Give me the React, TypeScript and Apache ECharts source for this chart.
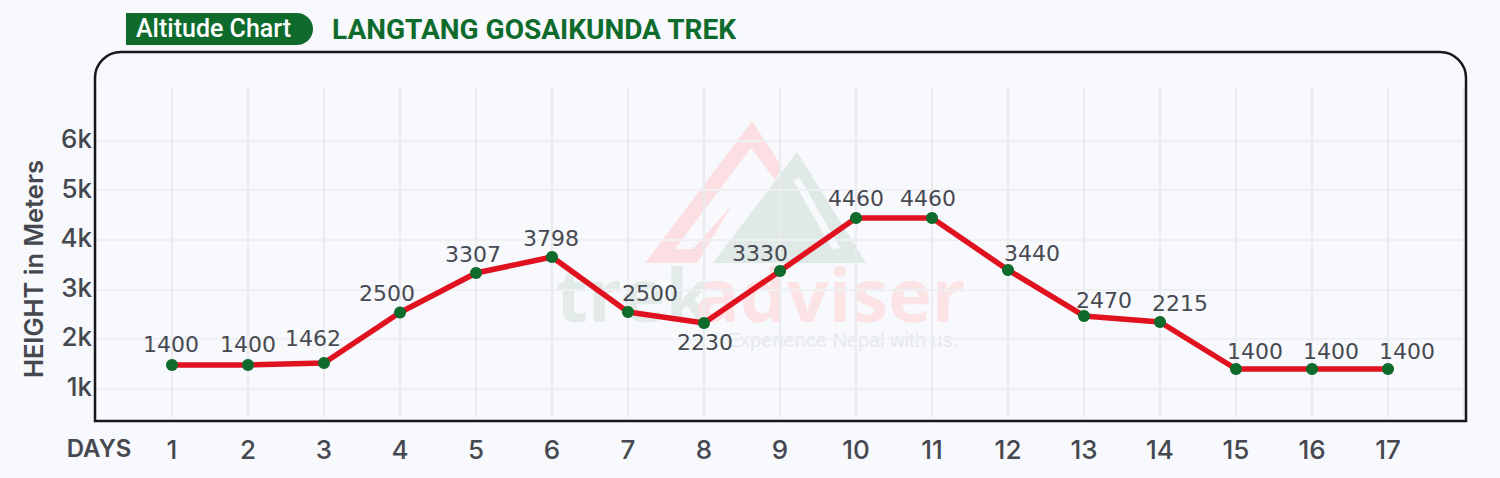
import React, { useEffect, useRef } from "react";
import * as echarts from "echarts";

// Categories: first is the axis caption, last is an empty slot that closes the plot
const dayCategories = ["DAYS", "1", "2", "3", "4", "5", "6", "7", "8", "9", "10", "11", "12", "13", "14", "15", "16", "17", ""];
const plottedHeights = [1474, 1474, 1514, 2532, 3329, 3651, 2542, 2320, 3369, 4437, 4437, 3389, 2462, 2341, 1393, 1393, 1393];
// Printed point labels (the source labels do not always match the plotted height)
const pointLabels = ["1400", "1400", "1462", "2500", "3307", "3798", "2500", "2230", "3330", "4460", "4460", "3440", "2470", "2215", "1400", "1400", "1400"];
const yTicks = [1000, 2000, 3000, 4000, 5000, 6000];

const labelShift: number[][] = [
  [-1, 0], [0, 0], [-11, -4], [-13, 1], [-3, 2], [-1, 2], [22, 2], [1, 39], [-20, 3], [0, 0], [-4, 0], [24, 4], [20, 5], [20, 2], [19, 3], [19, 3], [19, 3],
];

const FONT = "Inter, Liberation Sans, Arial, sans-serif";
const GREEN = "#0e6b2c";
const INK = "#46484f";

const redMark = "M752 121 L782 167 L775 180 L751 148 L675 249 L693 249 L732 205 L697 263 L645 263 Z";
const greenMark = "M797 152 L866 263 L713 263 Z M793 180 L832 249 L840 248 L800 178 Z";
const pillShape = "M126 13 L297 13 A16 16 0 0 1 297 45 L126 45 Z";
echarts.graphic.registerShape("wmRed", echarts.graphic.extendPath(redMark, {}) as any);
echarts.graphic.registerShape("wmGreen", echarts.graphic.extendPath(greenMark, {}) as any);
echarts.graphic.registerShape("pill", echarts.graphic.extendPath(pillShape, {}) as any);

export default function App() {
  const ref = useRef<HTMLDivElement>(null);
  useEffect(() => {
    const chart = echarts.init(ref.current!, undefined, { renderer: "svg" });
    chart.setOption({
      animation: false,
      backgroundColor: "#f7f9fc",
      grid: { left: 96, right: 36, top: 88, bottom: 61 },
      xAxis: {
        type: "category",
        data: dayCategories,
        boundaryGap: false,
        axisLine: { show: false },
        axisTick: { show: false },
        axisLabel: {
          interval: 0,
          margin: 19,
          color: INK,
          fontFamily: FONT,
          fontSize: 26,
          fontWeight: 500,
          formatter: (v: string) => (v === "DAYS" ? "{c|DAYS}" : v),
          rich: { c: { fontSize: 24, fontWeight: 600, color: INK, fontFamily: FONT, padding: [0, 0, 0, 6] } },
        },
        splitLine: { show: true, lineStyle: { color: "#e9ebef", width: 2 } },
      },
      yAxis: {
        type: "value",
        min: 425,
        max: 7058,
        axisLine: { show: false },
        axisTick: { show: false, customValues: yTicks },
        axisLabel: {
          customValues: yTicks,
          margin: 4,
          color: INK,
          fontFamily: FONT,
          fontSize: 26,
          fontWeight: 500,
          verticalAlign: "bottom",
          lineHeight: 4,
          formatter: (v: number) => `${v / 1000}k`,
        },
        splitLine: { show: true, lineStyle: { color: "#eff0f4", width: 2 } },
      },
      graphic: [
        { type: "wmRed", z: -1, silent: true, style: { fill: "#fbdfe2" } },
        { type: "wmGreen", z: -1, silent: true, style: { fill: "#dfe9e6" } },
        { type: "text", z: -1, silent: true, x: 556, y: 256, style: { text: "trek", font: "bold 74px 'Open Sans', sans-serif", fill: "#e2ebe8" } },
        { type: "text", z: -1, silent: true, x: 695, y: 256, style: { text: "adviser", font: "bold 74px 'Open Sans', sans-serif", fill: "#fbe3e6" } },
        { type: "text", z: -1, silent: true, x: 958, y: 330, style: { text: "Experience Nepal with us.", font: `20px Liberation Sans, sans-serif`, fill: "#e6e8ec", align: "right" } },
        { type: "rect", z: 5, silent: true, shape: { x: 95, y: 52, width: 1371, height: 369, r: [26, 26, 0, 0] }, style: { fill: "none", stroke: "#17181c", lineWidth: 2.5 } },
        { type: "pill", z: 5, silent: true, style: { fill: GREEN } },
        { type: "text", z: 6, silent: true, x: 136, y: 16, style: { text: "Altitude Chart", font: `500 25px Roboto, sans-serif`, fill: "#ffffff" } },
        { type: "text", z: 6, silent: true, x: 332, y: 15, style: { text: "LANGTANG GOSAIKUNDA TREK", font: `bold 28px Roboto, sans-serif`, fill: GREEN } },
        { type: "text", z: 6, silent: true, x: 20, y: 269, rotation: Math.PI / 2, style: { text: "HEIGHT in Meters", font: `600 25.5px ${FONT}`, fill: INK, align: "center" } },
      ],
      series: [
        {
          type: "line",
          data: plottedHeights.map((h, i) => ({
            value: [String(i + 1), h],
            label: { formatter: pointLabels[i], offset: labelShift[i] },
          })),
          lineStyle: { color: "#e0121f", width: 5.5 },
          itemStyle: { color: GREEN },
          symbol: "circle",
          symbolSize: 12,
          showAllSymbol: true,
          label: {
            show: true,
            position: "top",
            distance: 3,
            color: "#484a52",
            fontFamily: "DejaVu Sans, sans-serif",
            fontSize: 22,
          },
        },
      ],
    });
    return () => chart.dispose();
  }, []);
  return <div ref={ref} style={{ position: "absolute", left: 0, top: 0, width: 1500, height: 478 }} />;
}
